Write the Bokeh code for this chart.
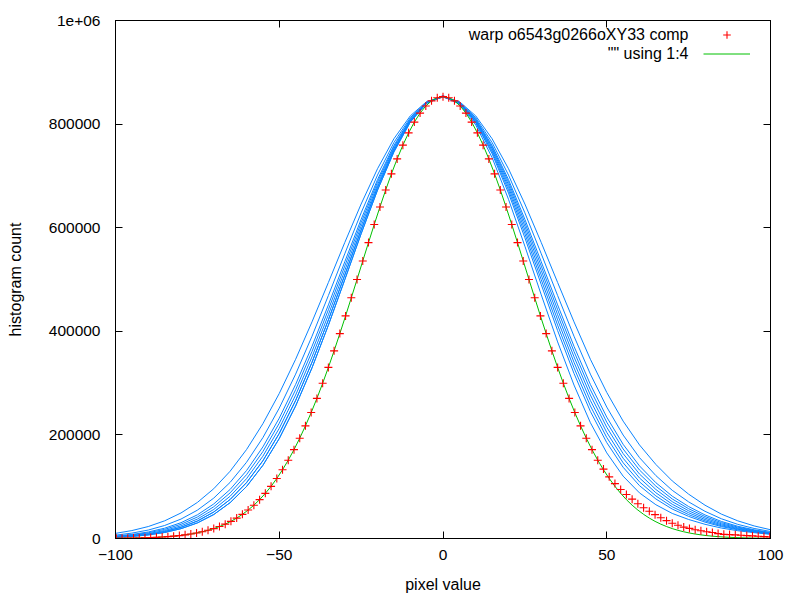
from bokeh.plotting import figure
from bokeh.models import FixedTicker, LinearAxis, Legend, LegendItem, Label, Range1d
from bokeh.embed import file_html
from bokeh.resources import INLINE

FONT = "Liberation Sans"

# ---------------- data ----------------
# x positions of the blue curves (pixel value bins, step 5)
pixel = list(range(-100, 101, 5))

blue_1 = [2200, 4000, 6900, 11600, 19000, 30100, 46300, 69200, 100300, 141200, 193000, 255900, 329500, 411800, 499500, 588300, 672500, 746200, 803800, 840400,
          853000,
          839000, 798400, 735100, 654800, 564300, 470400, 379500, 296200, 223600, 165300, 120400, 88000, 65200, 48400, 36700, 27400, 20200, 15000, 11200, 8100]
blue_2 = [2700, 4800, 8100, 13400, 21600, 33700, 51100, 75300, 107800, 150000, 202800, 266500, 340200, 422000, 508600, 595600, 677900, 749600, 805400, 840800,
          853000,
          840000, 802100, 742700, 666800, 580600, 490200, 401300, 318600, 245300, 185100, 137500, 102000, 76300, 56800, 42700, 31600, 23000, 16800, 12300, 8800]
blue_3 = [2200, 4000, 6900, 11600, 19000, 30100, 46300, 69200, 100300, 141200, 193000, 255900, 329500, 411800, 499500, 588300, 672500, 746200, 803800, 840400,
          854000,
          840400, 803800, 746200, 672500, 588300, 499500, 411800, 329500, 255900, 195000, 146200, 109300, 82200, 61300, 46100, 34000, 24600, 17900, 13000, 9200]
blue_4 = [2700, 4800, 8100, 13400, 21600, 33700, 51100, 75300, 107800, 150000, 202800, 266500, 340200, 422000, 508600, 595600, 677900, 749600, 805400, 840800,
          853000,
          840800, 805400, 749600, 677900, 595600, 508600, 422000, 340200, 266500, 204800, 155000, 116800, 88300, 66100, 49700, 36600, 26400, 19100, 13800, 9700]
blue_5 = [3300, 5700, 9500, 15400, 24400, 37500, 56100, 81600, 115400, 158900, 212700, 276900, 350700, 431900, 517400, 602800, 683000, 752800, 806900, 841200,
          855000,
          841200, 806900, 752800, 683000, 602800, 517400, 431900, 350700, 276900, 214700, 163900, 124400, 94600, 71100, 53500, 39400, 28400, 20500, 14700, 10300]
blue_6 = [3900, 6700, 11000, 17600, 27400, 41500, 61300, 88100, 123200, 167800, 222500, 287200, 361000, 441600, 525900, 609600, 688000, 755800, 808400, 841600,
          853000,
          841600, 808400, 755800, 688000, 609600, 525900, 441600, 361000, 287200, 224500, 172800, 132200, 101100, 76300, 57500, 42400, 30600, 22000, 15700, 10900]
blue_7 = [4700, 7800, 12600, 19900, 30500, 45700, 66700, 94700, 131100, 176800, 232300, 297400, 371000, 451000, 534100, 616200, 692700, 758800, 809800, 842000,
          854000,
          842000, 809800, 758800, 692700, 616200, 534100, 451000, 371000, 297400, 234300, 181800, 140100, 107700, 81700, 61700, 45500, 32900, 23600, 16800, 11700]
blue_8 = [6500, 10400, 16300, 25100, 37500, 54700, 78000, 108400, 147100, 194700, 251700, 317300, 390500, 469000, 549700, 628700, 701700, 764300, 812400, 842700,
          853000,
          842700, 812400, 764300, 701700, 628700, 549700, 469000, 390500, 317300, 253700, 199700, 156100, 121400, 93000, 70700, 52500, 38100, 27300, 19400, 13500]
blue_9 = [9900, 15300, 23100, 34100, 49300, 69600, 96100, 129900, 171600, 221600, 280000, 346000, 418200, 494200, 571300, 645700, 713800, 771600, 815800, 843500,
          853000,
          843500, 815800, 771600, 713800, 645700, 571300, 494200, 418200, 346000, 282000, 226600, 180600, 142900, 111100, 85600, 64300, 47100, 34100, 24300, 16900]
blue_series = [blue_1, blue_2, blue_3, blue_4, blue_5, blue_6, blue_7, blue_8, blue_9]

# comp histogram bins (step 1.75)
comp_x = [round(1.75 * k, 2) for k in range(-57, 58)]
comp_y = [380, 500, 650, 840, 1080, 1390, 1780, 2260, 2860, 3600,
          4500, 5600, 7000, 8600, 10600, 13000, 15800, 19100, 23100, 27700,
          33100, 39400, 46600, 54900, 64300, 75000, 87200, 100700, 115900, 132700,
          151200, 171500, 193600, 217500, 243100, 270500, 299600, 330300, 362300, 395600,
          429700, 464700, 500100, 535800, 571200, 606100, 640100, 672900, 704000, 732800,
          759400, 783100, 803900, 821200, 835000, 844900, 851000,
          853000,
          851000, 844900, 835000, 821200, 803900, 783100, 759400, 732800, 704000, 672900,
          640100, 606100, 571200, 535800, 500100, 464700, 429700, 395600, 362300, 330300,
          299600, 270500, 243100, 217500, 193600, 171500, 151200,
          134000, 119000, 106000,
          94500, 85000, 76000, 67000, 59500, 52500, 46000, 40000, 34500, 29500,
          25500, 22000, 19500, 17000, 15000, 13000, 11500, 9500, 8000, 7500,
          7000, 6200, 5600, 5000, 4300, 3700, 3200]
fit_y = [380, 500, 650, 840, 1080, 1390, 1780, 2260, 2860, 3600,
         4500, 5600, 7000, 8600, 10600, 13000, 15800, 19100, 23100, 27700,
         33100, 39400, 46600, 54900, 64300, 75000, 87200, 100700, 115900, 132700,
         151200, 171500, 193600, 217500, 243100, 270500, 299600, 330300, 362300, 395600,
         429700, 464700, 500100, 535800, 571200, 606100, 640100, 672900, 704000, 732800,
         759400, 783100, 803900, 821200, 835000, 844900, 851000,
         853000,
         851000, 844900, 835000, 821200, 803900, 783100, 759400, 732800, 704000, 672900,
         640100, 606100, 571200, 535800, 500100, 464700, 429700, 395600, 362300, 330300,
         299600, 270500, 243100, 217500, 193600, 171500, 151200, 132700, 115900, 100700,
         87200, 75000, 64300, 54900, 46600, 39400, 33100, 27700, 23100, 19100,
         15800, 13000, 10600, 8600, 7000, 5600, 4500, 3600, 2860, 2260,
         1780, 1390, 1080, 840, 650, 500, 380]

xticks = [-100, -50, 0, 50, 100]
yticks = [0, 200000, 400000, 600000, 800000, 1000000]
ytick_labels = ["0", "200000", "400000", "600000", "800000", "1e+06"]
legend_labels = ["warp o6543g0266oXY33 comp", '"" using 1:4']
x_title = "pixel value"
y_title = "histogram count"

BLUE = "#0a84ff"
GREEN = "#00c000"
RED = "#ff0000"

# ---------------- figure ----------------
W, H = 796, 598
p = figure(width=W, height=H, output_backend="svg", toolbar_location=None,
           x_range=Range1d(-100, 100), y_range=Range1d(0, 1000000),
           min_border_left=115, min_border_right=W - 770, min_border_top=20,
           min_border_bottom=H - 538)
p.xgrid.visible = False
p.ygrid.visible = False
p.outline_line_color = "black"
p.outline_line_width = 1
p.background_fill_color = "white"
p.border_fill_color = "white"

tick_font = "15.5px"
lab_font = "16px"

xa = p.xaxis[0]
xa.ticker = FixedTicker(ticks=xticks)
ya = p.yaxis[0]
ya.ticker = FixedTicker(ticks=yticks)
ya.major_label_overrides = {t: l for t, l in zip(yticks, ytick_labels)}
for ax in (xa, ya):
    ax.major_tick_in = 7
    ax.major_tick_out = 0
    ax.minor_tick_in = 0
    ax.minor_tick_out = 0
    ax.axis_line_color = "black"
    ax.major_tick_line_color = "black"
    ax.major_label_text_font = FONT
    ax.major_label_text_font_size = tick_font
    ax.major_label_text_color = "black"
    ax.axis_label_text_font = FONT
    ax.axis_label_text_font_size = lab_font
    ax.axis_label_text_font_style = "normal"
    ax.axis_label_text_color = "black"
xa.axis_label = x_title
ya.axis_label = y_title
xa.major_label_standoff = 11
xa.axis_label_standoff = 13
ya.major_label_standoff = 15
ya.axis_label_standoff = 22

# mirrored ticks on top and right (no labels)
top = LinearAxis(ticker=FixedTicker(ticks=xticks), major_tick_in=7, major_tick_out=0,
                 minor_tick_in=0, minor_tick_out=0, major_label_standoff=0,
                 major_label_overrides={t: "" for t in xticks},
                 axis_line_color="black", major_tick_line_color="black")
right = LinearAxis(ticker=FixedTicker(ticks=yticks), major_tick_in=7, major_tick_out=0,
                   minor_tick_in=0, minor_tick_out=0, major_label_standoff=0,
                   major_label_overrides={t: "" for t in yticks},
                   axis_line_color="black", major_tick_line_color="black")
p.add_layout(top, "above")
p.add_layout(right, "right")

# ---------------- glyphs ----------------
p.multi_line(xs=[pixel] * len(blue_series), ys=blue_series, line_color=BLUE, line_width=1)
green_r = p.line(comp_x, fit_y, line_color=GREEN, line_width=1)
red_r = p.scatter(comp_x, comp_y, marker="cross", size=8, line_color=RED, line_width=1.1)

# gnuplot-style key: samples from a Legend, texts right-aligned before them
legend = Legend(items=[LegendItem(label="", renderers=[red_r]),
                       LegendItem(label="", renderers=[green_r])],
                location=(588, 475), glyph_width=47, glyph_height=19, label_height=19,
                label_width=0, label_standoff=0, padding=0, margin=0, spacing=0,
                border_line_color=None, background_fill_alpha=0,
                label_text_font=FONT, label_text_font_size=lab_font)
p.add_layout(legend, "center")

for i, txt in enumerate(legend_labels):
    p.add_layout(Label(x=573, y=504 - 19 * i, x_units="screen", y_units="screen", text=txt,
                       text_align="right", text_baseline="middle", text_font=FONT,
                       text_font_size=lab_font, text_color="black"))

open("out.html", "w").write(file_html(p, INLINE))
